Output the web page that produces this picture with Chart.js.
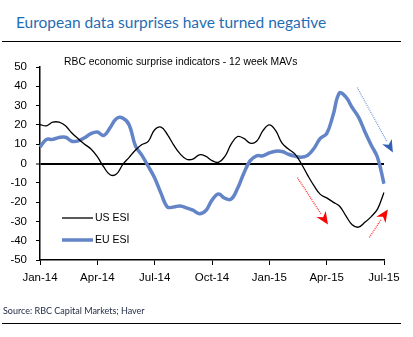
<!DOCTYPE html>
<html>
<head>
<meta charset="utf-8">
<script src="https://cdn.jsdelivr.net/npm/chart.js@4/dist/chart.umd.min.js"></script>
<style>
    body { margin: 0; background: #fff; }
    #wrap { position: relative; width: 413px; height: 337px; overflow: hidden; }
    #chart { position: absolute; left: 0; top: 0; }
    .title {
        position: absolute; left: 16px; top: 13px;
        font-family: Lato, 'Open Sans', sans-serif; font-size: 15.5px;
        color: #1f6db4; white-space: nowrap;
    }
    .subtitle {
        position: absolute; left: 64px; top: 55px;
        font-family: 'Liberation Sans', Arial, sans-serif;
        font-size: 11.5px; color: #000; white-space: nowrap;
        transform: scaleX(0.9); transform-origin: left top;
    }
    .rule { position: absolute; left: 2px; width: 399px; height: 1px; background: #000; }
    .source {
        position: absolute; left: 3px; top: 305px;
        font-family: Lato, 'Open Sans', sans-serif; font-size: 9px;
        color: #1c2740; white-space: nowrap;
    }
</style>
</head>
<body>
<div id="wrap">
    <div class="title">European data surprises have turned negative</div>
    <div class="rule" style="top:41px"></div>
    <canvas id="chart" width="413" height="337"></canvas>
    <div class="subtitle">RBC economic surprise indicators - 12 week MAVs</div>
    <div class="source">Source: RBC Capital Markets; Haver</div>
    <div class="rule" style="top:323px"></div>
</div>
<script>
// Periods (roughly every 10 days), Jan-14 to Jul-15
const periods = [
    '2014-01-01', '2014-01-11', '2014-01-21', '2014-02-01', '2014-02-11', '2014-02-21',
    '2014-03-01', '2014-03-11', '2014-03-21', '2014-04-01', '2014-04-11', '2014-04-21',
    '2014-05-01', '2014-05-11', '2014-05-21', '2014-06-01', '2014-06-11', '2014-06-21',
    '2014-07-01', '2014-07-11', '2014-07-21', '2014-08-01', '2014-08-11', '2014-08-21',
    '2014-09-01', '2014-09-11', '2014-09-21', '2014-10-01', '2014-10-11', '2014-10-21',
    '2014-11-01', '2014-11-11', '2014-11-21', '2014-12-01', '2014-12-11', '2014-12-21',
    '2015-01-01', '2015-01-11', '2015-01-21', '2015-02-01', '2015-02-11', '2015-02-21',
    '2015-03-01', '2015-03-11', '2015-03-21', '2015-04-01', '2015-04-11', '2015-04-21',
    '2015-05-01', '2015-05-11', '2015-05-21', '2015-06-01', '2015-06-11', '2015-06-21',
    '2015-07-01'
];

const usEsi = [
    20.2, 19.5, 21.4, 21.4, 19.5, 15.8, 12.8, 10.0, 7.5, 3.5, -1.8, -5.8,
    -5.5, -0.5, 3.2, 7.0, 9.8, 11.5, 17.5, 18.8, 15.0, 9.5, 5.0, 2.2,
    2.3, 4.5, 3.8, 1.5, 0.6, 3.5, 10.0, 14.0, 13.0, 10.5, 11.5, 17.0,
    20.0, 17.0, 10.5, 7.5, 5.0, 0.0, -6.0, -11.5, -16.0, -17.8, -20.0, -22.0,
    -27.0, -31.7, -33.0, -30.5, -27.5, -23.5, -15.0
];

const euEsi = [
    8.5, 12.4, 12.5, 13.5, 13.6, 11.5, 11.7, 13.3, 15.5, 16.3, 14.5, 18.5,
    23.3, 23.5, 20.0, 9.0, 4.2, -1.5, -7.5, -15.5, -22.5, -22.5, -22.0, -23.0,
    -24.2, -26.0, -24.5, -19.0, -15.8, -18.0, -18.5, -13.0, -5.0, 1.5, 4.0, 4.0,
    5.5, 6.4, 6.2, 4.8, 3.8, 3.3, 4.2, 7.8, 13.0, 15.5, 25.0, 36.5,
    34.5, 29.0, 24.0, 16.5, 9.5, 3.0, -10.5
];

const tickLabels = ['Jan-14', 'Apr-14', 'Jul-14', 'Oct-14', 'Jan-15', 'Apr-15', 'Jul-15'];
const seriesNames = ['US ESI', 'EU ESI'];

// Arrow annotations, in (period index, value) units
const arrows = [
    { from: [49.8, 39.4], to: [55.4, 5.7], line: '#7e9fd8', head: '#3461b5' },
    { from: [40.4, -7.3], to: [45.2, -31.6], line: '#ff3030', head: '#ff0000' },
    { from: [51.7, -38.3], to: [54.6, -23.8], line: '#ff3030', head: '#ff0000' }
];

const axisFont = "'Liberation Sans', Arial, sans-serif";

// Draws the arrows and the in-plot legend
const overlayPlugin = {
    id: 'overlay',
    afterDatasetsDraw(chart) {
        const ctx = chart.ctx;
        const xs = chart.scales.x, ys = chart.scales.y;
        arrows.forEach(a => {
            const x1 = xs.getPixelForValue(a.from[0]), y1 = ys.getPixelForValue(a.from[1]);
            const x2 = xs.getPixelForValue(a.to[0]), y2 = ys.getPixelForValue(a.to[1]);
            const ang = Math.atan2(y2 - y1, x2 - x1);
            const headLen = 12.5, headW = 5.5;
            ctx.save();
            ctx.strokeStyle = a.line;
            ctx.lineWidth = 1.3;
            ctx.setLineDash([1, 1]);
            ctx.beginPath();
            ctx.moveTo(x1, y1);
            ctx.lineTo(x2 - Math.cos(ang) * headLen, y2 - Math.sin(ang) * headLen);
            ctx.stroke();
            ctx.setLineDash([]);
            ctx.fillStyle = a.head;
            ctx.beginPath();
            ctx.moveTo(x2, y2);
            ctx.lineTo(x2 - Math.cos(ang) * headLen - Math.sin(ang) * headW,
                       y2 - Math.sin(ang) * headLen + Math.cos(ang) * headW);
            ctx.lineTo(x2 - Math.cos(ang) * headLen * 0.7, y2 - Math.sin(ang) * headLen * 0.7);
            ctx.lineTo(x2 - Math.cos(ang) * headLen + Math.sin(ang) * headW,
                       y2 - Math.sin(ang) * headLen - Math.cos(ang) * headW);
            ctx.closePath();
            ctx.fill();
            ctx.restore();
        });

        // legend
        ctx.save();
        ctx.font = '10.5px ' + axisFont;
        ctx.textBaseline = 'middle';
        chart.data.datasets.forEach((ds, i) => {
            const y = 218 + i * 22;
            ctx.strokeStyle = ds.borderColor;
            ctx.lineWidth = ds.borderWidth;
            ctx.beginPath();
            ctx.moveTo(62, y);
            ctx.lineTo(93, y);
            ctx.stroke();
            ctx.fillStyle = '#000';
            ctx.fillText(ds.label, 95, y);
        });
        ctx.restore();
    }
};

new Chart(document.getElementById('chart'), {
    type: 'line',
    data: {
        labels: periods,
        datasets: [
            {
                label: seriesNames[0],
                data: usEsi,
                borderColor: '#000000',
                borderWidth: 1.3,
                pointRadius: 0,
                tension: 0.4,
                fill: false
            },
            {
                label: seriesNames[1],
                data: euEsi,
                borderColor: '#6384c6',
                borderWidth: 3.5,
                pointRadius: 0,
                tension: 0.4,
                fill: false
            }
        ]
    },
    options: {
        responsive: false,
        animation: false,
        devicePixelRatio: 1,
        layout: { padding: { left: 0, top: 67, right: 29, bottom: 0 } },
        plugins: {
            legend: { display: false },
            tooltip: { enabled: false },
            title: { display: false }
        },
        scales: {
            x: {
                type: 'category',
                offset: false,
                afterBuildTicks: axis => {
                    axis.ticks = axis.ticks.filter(t => t.value % 9 === 0);
                },
                afterFit: scale => { scale.height = 77; },
                ticks: {
                    autoSkip: false,
                    maxRotation: 0,
                    padding: 6,
                    color: '#000',
                    font: { family: axisFont, size: 11.5 },
                    callback: value => tickLabels[value / 9]
                },
                grid: {
                    drawOnChartArea: false,
                    tickLength: 5,
                    tickColor: '#000',
                    tickWidth: 1
                },
                border: { display: true, color: '#000', width: 1.5 }
            },
            y: {
                min: -50,
                max: 50,
                afterFit: scale => { scale.width = 40; },
                ticks: {
                    stepSize: 10,
                    padding: 9,
                    color: '#000',
                    font: { family: axisFont, size: 11.5 }
                },
                grid: {
                    drawOnChartArea: true,
                    color: ctx => ctx.tick && ctx.tick.value === 0 ? '#000' : 'rgba(0,0,0,0)',
                    lineWidth: ctx => ctx.tick && ctx.tick.value === 0 ? 2 : 1,
                    tickLength: 4,
                    tickColor: '#000',
                    tickWidth: 1
                },
                border: { display: true, color: '#000', width: 1.5 }
            }
        }
    },
    plugins: [overlayPlugin]
});
</script>
</body>
</html>
